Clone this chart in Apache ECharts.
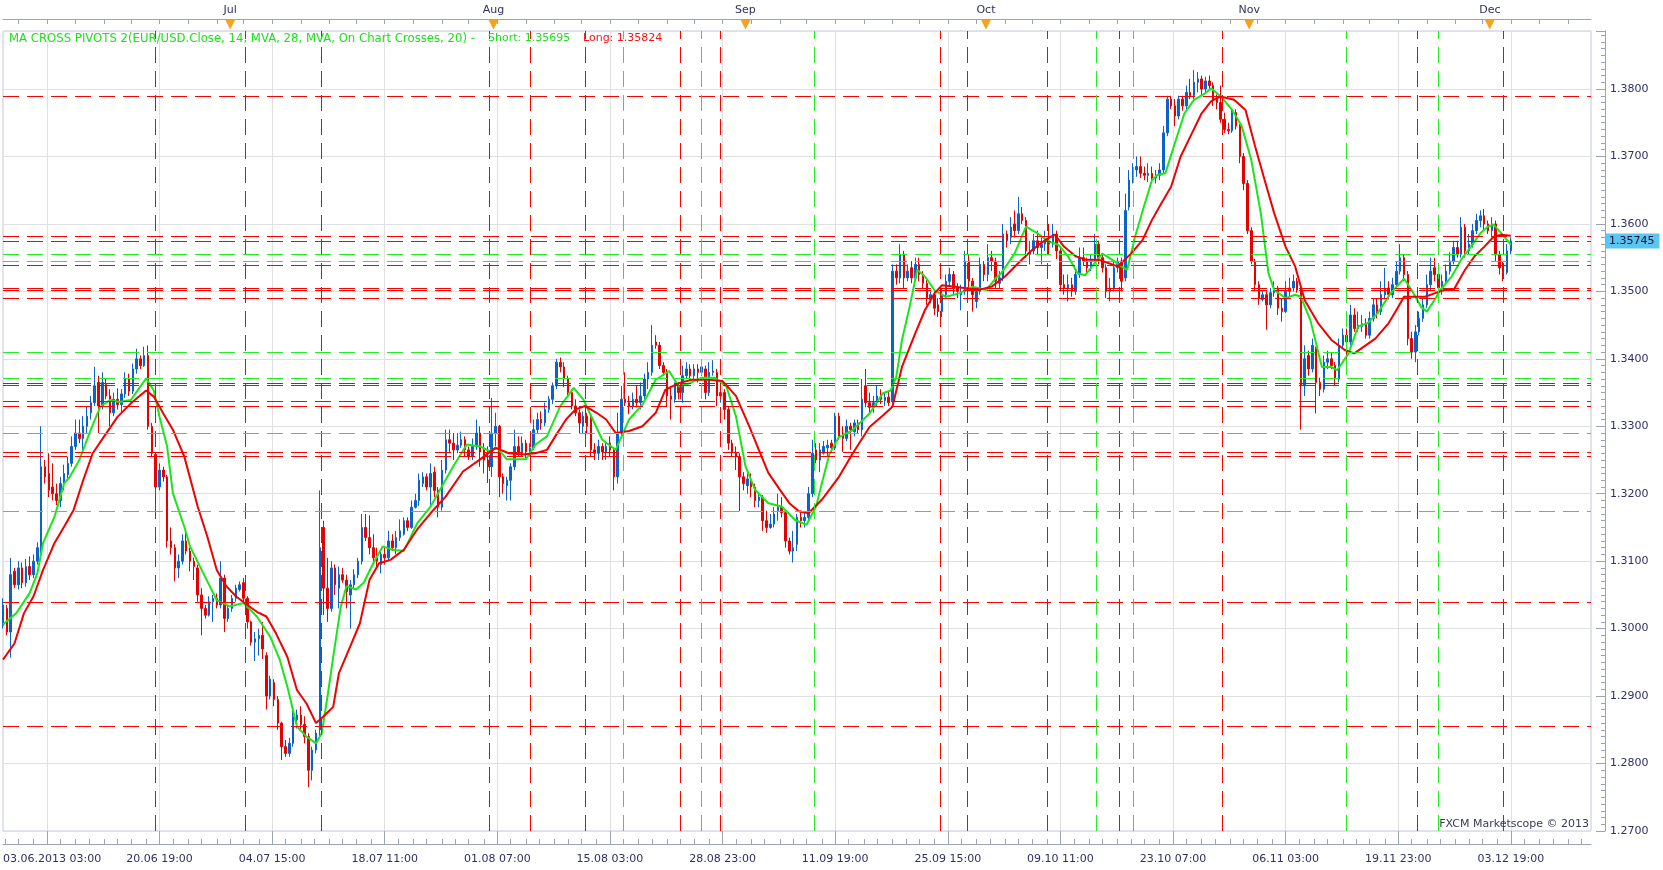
<!DOCTYPE html>
<html>
<head>
<meta charset="utf-8">
<script src="https://cdn.jsdelivr.net/npm/echarts@6.0.0/dist/echarts.min.js"></script>
<style>
html,body{margin:0;padding:0;background:#ffffff;}
#chart{width:1663px;height:870px;}
</style>
</head>
<body>
<div id="chart"></div>
<script>
// ---------------- DATA ----------------
const indicatorLabel = 'MA CROSS PIVOTS 2(EUR/USD.Close, 14, MVA, 28, MVA, On Chart Crosses, 20) -';
const shortValue = '1.35695';
const longValue = '1.35824';
const lastPrice = 1.35745;
const watermark = 'FXCM Marketscope \u00A9 2013';
const slotCount = 833;          // 4-hour slots shown on the time axis (incl. empty future slots)
const monthNames = ['Jan','Feb','Mar','Apr','May','Jun','Jul','Aug','Sep','Oct','Nov','Dec'];
const bottomLabels = ['03.06.2013 03:00','20.06 19:00','04.07 15:00','18.07 11:00','01.08 07:00','15.08 03:00','28.08 23:00','11.09 19:00','25.09 15:00','09.10 11:00','23.10 07:00','06.11 03:00','19.11 23:00','03.12 19:00'];
const gridTimes = ['06.06 23:00','20.06 19:00','04.07 15:00','18.07 11:00','01.08 07:00','15.08 03:00','28.08 23:00','11.09 19:00','25.09 15:00','09.10 11:00','23.10 07:00','06.11 03:00','19.11 23:00','03.12 19:00'];

// 8-hour OHLC bars [open, close, low, high], first bar 03.06.2013 03:00
const ohlcJun = [
[1.3005,1.3035,1.3000,1.3045],[1.3030,1.2995,1.2990,1.3035],[1.2995,1.3080,1.2957,1.3105],[1.3085,1.3065,1.3060,1.3090],
[1.3065,1.3090,1.3058,1.3100],[1.3090,1.3068,1.3060,1.3098],[1.3068,1.3092,1.3062,1.3103],[1.3092,1.3080,1.3072,1.3107],
[1.3080,1.3100,1.3075,1.3110],[1.3100,1.3120,1.3095,1.3128],[1.3120,1.3240,1.3110,1.3300],[1.3240,1.3225,1.3215,1.3250],
[1.3230,1.3205,1.3195,1.3260],[1.3210,1.3200,1.3190,1.3245],[1.3200,1.3190,1.3183,1.3215],[1.3190,1.3215,1.3180,1.3225],
[1.3215,1.3230,1.3205,1.3243],[1.3228,1.3245,1.3222,1.3255],[1.3245,1.3270,1.3240,1.3285],[1.3270,1.3290,1.3265,1.3310],
[1.3290,1.3282,1.3275,1.3310],[1.3282,1.3300,1.3265,1.3315],[1.3300,1.3315,1.3290,1.3330],[1.3320,1.3335,1.3310,1.3345],
[1.3335,1.3360,1.3330,1.3388],[1.3365,1.3330,1.3290,1.3375],[1.3330,1.3365,1.3325,1.3380],[1.3362,1.3345,1.3340,1.3370],
[1.3345,1.3320,1.3300,1.3355],[1.3320,1.3340,1.3315,1.3350],[1.3340,1.3332,1.3325,1.3356],[1.3332,1.3348,1.3320,1.3355],
[1.3348,1.3370,1.3342,1.3380],[1.3370,1.3352,1.3345,1.3378],[1.3352,1.3385,1.3348,1.3393],[1.3385,1.3400,1.3378,1.3415],
[1.3400,1.3390,1.3385,1.3405],[1.3390,1.3405,1.3388,1.3418],[1.3405,1.3300,1.3295,1.3420],[1.3300,1.3260,1.3255,1.3305],
[1.3258,1.3210,1.3170,1.3262],[1.3210,1.3235,1.3205,1.3245],[1.3235,1.3225,1.3218,1.3240],[1.3225,1.3130,1.3120,1.3228],
[1.3130,1.3120,1.3110,1.3150],[1.3120,1.3090,1.3070,1.3125],[1.3090,1.3100,1.3075,1.3110],[1.3100,1.3130,1.3095,1.3140],
[1.3130,1.3115,1.3110,1.3143],[1.3115,1.3100,1.3085,1.3120],[1.3100,1.3092,1.3072,1.3105],[1.3090,1.3050,1.3040,1.3095],
[1.3050,1.3030,1.2990,1.3060],[1.3030,1.3020,1.3015,1.3035],[1.3020,1.3040,1.3018,1.3048],[1.3040,1.3045,1.3010,1.3050],
[1.3045,1.3035,1.3030,1.3052],[1.3035,1.3075,1.3030,1.3100],[1.3075,1.3015,1.2995,1.3080],[1.3015,1.3030,1.3010,1.3035]
];
const ohlcJul = [
[1.3030,1.3045,1.3025,1.3050],[1.3045,1.3060,1.3040,1.3065],[1.3058,1.3065,1.3055,1.3070],[1.3068,1.3045,1.3040,1.3075],
[1.3045,1.3010,1.3000,1.3048],[1.3010,1.2980,1.2975,1.3012],[1.2980,1.2985,1.2952,1.2995],[1.2985,1.2990,1.2960,1.3000],
[1.2990,1.2970,1.2955,1.3010],[1.2960,1.2900,1.2880,1.2965],[1.2900,1.2925,1.2895,1.2930],[1.2920,1.2895,1.2885,1.2925],
[1.2895,1.2860,1.2850,1.2900],[1.2860,1.2825,1.2805,1.2862],[1.2825,1.2815,1.2810,1.2835],[1.2815,1.2830,1.2810,1.2838],
[1.2830,1.2870,1.2825,1.2880],[1.2865,1.2872,1.2852,1.2880],[1.2872,1.2858,1.2850,1.2885],[1.2858,1.2840,1.2830,1.2870],
[1.2840,1.2790,1.2765,1.2845],[1.2790,1.2820,1.2775,1.2825],[1.2820,1.2845,1.2815,1.2850],[1.2850,1.3120,1.2840,1.3205],
[1.3150,1.3060,1.3020,1.3160],[1.3060,1.3030,1.3010,1.3105],[1.3030,1.3090,1.3025,1.3100],[1.3090,1.3065,1.3050,1.3095],
[1.3060,1.3080,1.3030,1.3092],[1.3080,1.3072,1.3068,1.3090],[1.3072,1.3055,1.3030,1.3080],[1.3050,1.3065,1.3000,1.3072],
[1.3065,1.3080,1.3060,1.3088],[1.3080,1.3100,1.3075,1.3105],[1.3100,1.3150,1.3095,1.3170],[1.3150,1.3135,1.3130,1.3170],
[1.3135,1.3120,1.3110,1.3168],[1.3120,1.3105,1.3095,1.3140],[1.3105,1.3100,1.3088,1.3120],[1.3095,1.3110,1.3082,1.3115],
[1.3110,1.3105,1.3095,1.3120],[1.3105,1.3130,1.3100,1.3145],[1.3130,1.3120,1.3115,1.3140],[1.3120,1.3135,1.3110,1.3145],
[1.3135,1.3145,1.3130,1.3162],[1.3140,1.3160,1.3138,1.3165],[1.3160,1.3150,1.3145,1.3165],[1.3150,1.3180,1.3148,1.3190],
[1.3180,1.3190,1.3178,1.3200],[1.3190,1.3220,1.3182,1.3230],[1.3215,1.3225,1.3210,1.3232],[1.3225,1.3210,1.3205,1.3230],
[1.3210,1.3230,1.3180,1.3245],[1.3232,1.3205,1.3195,1.3240],[1.3205,1.3180,1.3165,1.3210],[1.3180,1.3235,1.3175,1.3250],
[1.3235,1.3280,1.3230,1.3295],[1.3280,1.3275,1.3262,1.3295],[1.3275,1.3265,1.3250,1.3290],[1.3265,1.3272,1.3260,1.3290],
[1.3272,1.3280,1.3268,1.3292],[1.3280,1.3265,1.3255,1.3285],[1.3265,1.3255,1.3250,1.3270],[1.3255,1.3270,1.3250,1.3282],
[1.3270,1.3290,1.3265,1.3310],[1.3290,1.3262,1.3240,1.3300],[1.3265,1.3250,1.3230,1.3275],[1.3250,1.3240,1.3216,1.3270],
[1.3240,1.3290,1.3225,1.3342]
];
const ohlcAug = [
[1.3290,1.3300,1.3270,1.3320],[1.3300,1.3225,1.3195,1.3302],[1.3225,1.3215,1.3200,1.3230],[1.3212,1.3220,1.3190,1.3225],
[1.3220,1.3240,1.3190,1.3245],[1.3240,1.3270,1.3235,1.3295],[1.3270,1.3260,1.3255,1.3285],[1.3260,1.3275,1.3255,1.3285],
[1.3275,1.3262,1.3252,1.3280],[1.3262,1.3268,1.3255,1.3275],[1.3268,1.3295,1.3265,1.3310],[1.3295,1.3310,1.3290,1.3320],
[1.3310,1.3305,1.3295,1.3322],[1.3305,1.3325,1.3300,1.3335],[1.3325,1.3340,1.3320,1.3345],[1.3340,1.3360,1.3333,1.3365],
[1.3360,1.3395,1.3355,1.3400],[1.3395,1.3388,1.3380,1.3402],[1.3388,1.3370,1.3358,1.3395],[1.3370,1.3350,1.3345,1.3375],
[1.3350,1.3330,1.3325,1.3355],[1.3330,1.3320,1.3315,1.3340],[1.3320,1.3305,1.3290,1.3325],[1.3300,1.3315,1.3290,1.3322],
[1.3315,1.3300,1.3290,1.3320],[1.3315,1.3265,1.3255,1.3318],[1.3265,1.3260,1.3250,1.3275],[1.3260,1.3270,1.3250,1.3280],
[1.3270,1.3262,1.3250,1.3275],[1.3262,1.3270,1.3250,1.3278],[1.3275,1.3265,1.3255,1.3285],[1.3265,1.3225,1.3205,1.3268],
[1.3225,1.3290,1.3215,1.3320],[1.3290,1.3340,1.3285,1.3360],[1.3340,1.3335,1.3330,1.3380],[1.3335,1.3330,1.3318,1.3345],
[1.3330,1.3340,1.3325,1.3350],[1.3340,1.3335,1.3328,1.3360],[1.3335,1.3345,1.3325,1.3365],[1.3345,1.3370,1.3340,1.3378],
[1.3370,1.3380,1.3355,1.3395],[1.3380,1.3420,1.3375,1.3450],[1.3425,1.3420,1.3415,1.3435],[1.3420,1.3390,1.3385,1.3425],
[1.3390,1.3380,1.3375,1.3395],[1.3380,1.3345,1.3330,1.3385],[1.3345,1.3340,1.3310,1.3360],[1.3340,1.3360,1.3335,1.3365],
[1.3360,1.3350,1.3340,1.3365],[1.3350,1.3375,1.3335,1.3390],[1.3375,1.3385,1.3370,1.3395],[1.3385,1.3375,1.3368,1.3392],
[1.3375,1.3385,1.3368,1.3392],[1.3385,1.3380,1.3365,1.3392],[1.3380,1.3388,1.3375,1.3398],[1.3385,1.3350,1.3340,1.3390],
[1.3350,1.3380,1.3345,1.3395],[1.3380,1.3382,1.3375,1.3398],[1.3380,1.3345,1.3330,1.3385],[1.3345,1.3350,1.3335,1.3360],
[1.3350,1.3325,1.3310,1.3355],[1.3325,1.3275,1.3265,1.3330],[1.3275,1.3262,1.3255,1.3280],[1.3260,1.3255,1.3235,1.3270],
[1.3255,1.3225,1.3174,1.3260],[1.3225,1.3215,1.3205,1.3232]
];
const ohlcSep = [
[1.3212,1.3222,1.3200,1.3230],[1.3220,1.3210,1.3195,1.3230],[1.3210,1.3190,1.3180,1.3215],[1.3190,1.3195,1.3180,1.3200],
[1.3195,1.3160,1.3145,1.3198],[1.3160,1.3150,1.3142,1.3175],[1.3150,1.3155,1.3148,1.3170],[1.3155,1.3170,1.3150,1.3180],
[1.3175,1.3180,1.3160,1.3200],[1.3180,1.3172,1.3165,1.3195],[1.3172,1.3130,1.3120,1.3175],[1.3130,1.3115,1.3110,1.3135],
[1.3115,1.3120,1.3098,1.3145],[1.3125,1.3165,1.3115,1.3170],[1.3165,1.3160,1.3150,1.3175],[1.3160,1.3165,1.3150,1.3172],
[1.3165,1.3200,1.3160,1.3210],[1.3200,1.3260,1.3195,1.3280],[1.3265,1.3250,1.3245,1.3275],[1.3250,1.3265,1.3232,1.3275],
[1.3260,1.3270,1.3258,1.3278],[1.3268,1.3272,1.3255,1.3280],[1.3275,1.3268,1.3262,1.3280],[1.3268,1.3315,1.3265,1.3320],
[1.3315,1.3285,1.3280,1.3320],[1.3290,1.3282,1.3262,1.3300],[1.3282,1.3300,1.3278,1.3310],[1.3300,1.3295,1.3265,1.3305],
[1.3292,1.3305,1.3285,1.3310],[1.3305,1.3295,1.3290,1.3310],[1.3295,1.3340,1.3285,1.3370],[1.3360,1.3335,1.3328,1.3385],
[1.3335,1.3328,1.3320,1.3350],[1.3328,1.3335,1.3320,1.3345],[1.3335,1.3345,1.3330,1.3360],[1.3345,1.3340,1.3333,1.3355],
[1.3338,1.3343,1.3330,1.3350],[1.3343,1.3335,1.3330,1.3352],[1.3338,1.3530,1.3335,1.3540],[1.3530,1.3520,1.3510,1.3540],
[1.3520,1.3555,1.3512,1.3570],[1.3555,1.3520,1.3505,1.3560],[1.3520,1.3530,1.3515,1.3540],[1.3535,1.3520,1.3512,1.3545],
[1.3520,1.3540,1.3515,1.3550],[1.3540,1.3525,1.3515,1.3550],[1.3525,1.3512,1.3505,1.3530],[1.3512,1.3490,1.3480,1.3520],
[1.3488,1.3495,1.3482,1.3500],[1.3495,1.3475,1.3465,1.3500],[1.3480,1.3470,1.3462,1.3490],[1.3470,1.3495,1.3462,1.3505],
[1.3495,1.3515,1.3490,1.3525],[1.3515,1.3525,1.3508,1.3535],[1.3525,1.3505,1.3495,1.3530],[1.3505,1.3500,1.3490,1.3512],
[1.3495,1.3500,1.3472,1.3510],[1.3500,1.3545,1.3495,1.3560],[1.3545,1.3515,1.3505,1.3555],[1.3515,1.3495,1.3470,1.3520],
[1.3485,1.3500,1.3475,1.3505],[1.3500,1.3540,1.3495,1.3550],[1.3540,1.3525,1.3515,1.3545]
];
const ohlcOct = [
[1.3525,1.3550,1.3515,1.3570],[1.3550,1.3545,1.3530,1.3560],[1.3545,1.3515,1.3505,1.3550],[1.3512,1.3520,1.3505,1.3530],
[1.3520,1.3585,1.3515,1.3600],[1.3585,1.3575,1.3565,1.3590],[1.3580,1.3595,1.3570,1.3610],[1.3600,1.3590,1.3580,1.3620],
[1.3590,1.3615,1.3585,1.3640],[1.3615,1.3605,1.3600,1.3625],[1.3605,1.3560,1.3550,1.3610],[1.3555,1.3560,1.3540,1.3575],
[1.3560,1.3575,1.3555,1.3585],[1.3575,1.3565,1.3555,1.3590],[1.3565,1.3570,1.3540,1.3580],[1.3570,1.3575,1.3560,1.3590],
[1.3575,1.3570,1.3555,1.3600],[1.3570,1.3585,1.3565,1.3600],[1.3585,1.3560,1.3548,1.3590],[1.3560,1.3510,1.3500,1.3565],
[1.3510,1.3505,1.3495,1.3525],[1.3505,1.3510,1.3485,1.3525],[1.3510,1.3500,1.3492,1.3520],[1.3500,1.3525,1.3495,1.3530],
[1.3525,1.3550,1.3520,1.3565],[1.3550,1.3545,1.3538,1.3565],[1.3545,1.3535,1.3525,1.3550],[1.3535,1.3545,1.3530,1.3555],
[1.3545,1.3570,1.3540,1.3585],[1.3570,1.3550,1.3540,1.3575],[1.3550,1.3535,1.3528,1.3555],[1.3535,1.3500,1.3490,1.3540],
[1.3500,1.3505,1.3485,1.3520],[1.3505,1.3535,1.3500,1.3545],[1.3535,1.3545,1.3528,1.3550],[1.3545,1.3515,1.3500,1.3550],
[1.3520,1.3620,1.3515,1.3645],[1.3625,1.3665,1.3620,1.3680],[1.3665,1.3680,1.3660,1.3690],[1.3680,1.3685,1.3670,1.3700],
[1.3685,1.3675,1.3668,1.3700],[1.3675,1.3672,1.3665,1.3685],[1.3672,1.3675,1.3662,1.3690],[1.3675,1.3668,1.3662,1.3685],
[1.3668,1.3672,1.3660,1.3680],[1.3672,1.3680,1.3665,1.3690],[1.3680,1.3735,1.3675,1.3745],[1.3735,1.3785,1.3730,1.3790],
[1.3785,1.3775,1.3770,1.3790],[1.3775,1.3760,1.3745,1.3785],[1.3760,1.3785,1.3755,1.3790],[1.3785,1.3775,1.3768,1.3790],
[1.3775,1.3795,1.3770,1.3805],[1.3795,1.3790,1.3785,1.3815],[1.3790,1.3810,1.3785,1.3828],[1.3810,1.3815,1.3795,1.3825],
[1.3815,1.3800,1.3790,1.3820],[1.3800,1.3812,1.3795,1.3818],[1.3812,1.3805,1.3800,1.3820],[1.3805,1.3785,1.3775,1.3810],
[1.3785,1.3780,1.3770,1.3792],[1.3780,1.3755,1.3750,1.3805],[1.3755,1.3740,1.3735,1.3765],[1.3740,1.3738,1.3733,1.3750],
[1.3738,1.3765,1.3735,1.3772],[1.3765,1.3745,1.3740,1.3770],[1.3745,1.3700,1.3690,1.3748],[1.3700,1.3660,1.3650,1.3705],
[1.3660,1.3590,1.3585,1.3665]
];
const ohlcNov = [
[1.3590,1.3545,1.3540,1.3595],[1.3545,1.3510,1.3500,1.3548],[1.3510,1.3490,1.3480,1.3515],[1.3488,1.3495,1.3485,1.3502],
[1.3495,1.3480,1.3443,1.3500],[1.3480,1.3498,1.3475,1.3505],[1.3498,1.3505,1.3492,1.3515],[1.3505,1.3475,1.3465,1.3508],
[1.3475,1.3470,1.3455,1.3490],[1.3470,1.3500,1.3468,1.3515],[1.3500,1.3505,1.3492,1.3520],[1.3505,1.3515,1.3500,1.3525],
[1.3515,1.3502,1.3498,1.3520],[1.3500,1.3360,1.3295,1.3505],[1.3360,1.3400,1.3345,1.3420],[1.3405,1.3385,1.3375,1.3412],
[1.3385,1.3420,1.3380,1.3430],[1.3415,1.3365,1.3319,1.3418],[1.3365,1.3355,1.3345,1.3372],[1.3355,1.3395,1.3350,1.3405],
[1.3395,1.3400,1.3385,1.3412],[1.3400,1.3390,1.3385,1.3410],[1.3390,1.3370,1.3360,1.3395],[1.3370,1.3420,1.3365,1.3430],
[1.3420,1.3435,1.3415,1.3445],[1.3435,1.3425,1.3400,1.3445],[1.3425,1.3465,1.3420,1.3480],[1.3465,1.3445,1.3440,1.3475],
[1.3445,1.3450,1.3440,1.3470],[1.3448,1.3452,1.3440,1.3465],[1.3452,1.3435,1.3430,1.3460],[1.3435,1.3460,1.3430,1.3470],
[1.3460,1.3480,1.3455,1.3490],[1.3480,1.3470,1.3460,1.3490],[1.3470,1.3495,1.3465,1.3515],[1.3495,1.3505,1.3488,1.3535],
[1.3505,1.3495,1.3488,1.3515],[1.3495,1.3510,1.3490,1.3520],[1.3510,1.3530,1.3505,1.3545],[1.3530,1.3550,1.3525,1.3570],
[1.3550,1.3525,1.3515,1.3555],[1.3525,1.3430,1.3420,1.3530],[1.3430,1.3410,1.3400,1.3440],[1.3410,1.3440,1.3395,1.3450],
[1.3440,1.3460,1.3435,1.3470],[1.3460,1.3480,1.3455,1.3490],[1.3480,1.3510,1.3475,1.3525],[1.3510,1.3530,1.3500,1.3550],
[1.3535,1.3525,1.3515,1.3550],[1.3525,1.3505,1.3495,1.3535],[1.3505,1.3515,1.3495,1.3525],[1.3515,1.3530,1.3510,1.3540],
[1.3530,1.3545,1.3525,1.3558],[1.3545,1.3565,1.3540,1.3575],[1.3565,1.3555,1.3550,1.3575],[1.3555,1.3595,1.3550,1.3610],
[1.3595,1.3560,1.3550,1.3600],[1.3560,1.3570,1.3555,1.3585],[1.3570,1.3590,1.3565,1.3600],[1.3590,1.3605,1.3585,1.3615],
[1.3605,1.3612,1.3595,1.3620],[1.3612,1.3600,1.3590,1.3622],[1.3600,1.3590,1.3585,1.3605]
];
const ohlcDec = [
[1.3590,1.3600,1.3580,1.3610],[1.3600,1.3555,1.3545,1.3605],[1.3555,1.3535,1.3525,1.3560],[1.3535,1.3528,1.3515,1.3545],
[1.3528,1.3560,1.3525,1.3570],[1.3560,1.35745,1.3555,1.3580]
];

// moving averages: [slot, value]
const maShort = [[0,1.3006],[7,1.3023],[14,1.3053],[18,1.3082],[21,1.3127],[27,1.3166],[32,1.3215],[35,1.3225],[40,1.3250],[46,1.3295],[51,1.3329],[56,1.3339],[61,1.3336],[67,1.3339],[70,1.3351],[75,1.3371],[79,1.3353],[82,1.3314],[86,1.3270],[89,1.3201],[95,1.3151],[98,1.3122],[105,1.3082],[112,1.3042],[119,1.3033],[126,1.3038],[133,1.3018],[140,1.2988],[145,1.2954],[149,1.2914],[154,1.2855],[159,1.2840],[164,1.2830],[167,1.2845],[170,1.2899],[173,1.2958],[177,1.3033],[180,1.3063],[185,1.3058],[189,1.3068],[194,1.3097],[199,1.3122],[204,1.3117],[210,1.3115],[217,1.3156],[224,1.3181],[229,1.3206],[236,1.3241],[243,1.3273],[250,1.3270],[255,1.3263],[259,1.3268],[264,1.3251],[269,1.3251],[274,1.3251],[279,1.3273],[285,1.3285],[292,1.3330],[299,1.3357],[304,1.3340],[309,1.3310],[314,1.3280],[321,1.3265],[328,1.3310],[335,1.3332],[342,1.3369],[349,1.3382],[354,1.3359],[360,1.3364],[366,1.3372],[373,1.3372],[379,1.3359],[384,1.3315],[389,1.3241],[394,1.3206],[401,1.3186],[408,1.3181],[415,1.3161],[421,1.3154],[426,1.3181],[429,1.3215],[433,1.3259],[438,1.3284],[445,1.3294],[454,1.3319],[461,1.3349],[465,1.3353],[468,1.3373],[471,1.3428],[475,1.3477],[479,1.3532],[483,1.3522],[488,1.3502],[494,1.3492],[501,1.3497],[508,1.3507],[515,1.3502],[520,1.3519],[523,1.3527],[530,1.3556],[536,1.3596],[542,1.3586],[548,1.3574],[553,1.3569],[558,1.3552],[563,1.3527],[567,1.3524],[572,1.3542],[576,1.3556],[581,1.3547],[586,1.3537],[589,1.3532],[593,1.3580],[598,1.3628],[602,1.3665],[605,1.3673],[609,1.3675],[614,1.3720],[619,1.3764],[624,1.3784],[630,1.3794],[633,1.3801],[638,1.3789],[644,1.3769],[649,1.3745],[654,1.3695],[659,1.3616],[663,1.3527],[666,1.3502],[672,1.3490],[677,1.3495],[680,1.3492],[685,1.3457],[691,1.3388],[696,1.3388],[699,1.3383],[705,1.3408],[710,1.3448],[715,1.3453],[720,1.3467],[727,1.3497],[734,1.3519],[738,1.3502],[743,1.3477],[746,1.3470],[750,1.3487],[753,1.3502],[759,1.3522],[764,1.3547],[769,1.3566],[774,1.3586],[778,1.3596],[781,1.3599],[785,1.3586],[790,1.35695]];
const maLong = [[0,1.2954],[6,1.2978],[11,1.3023],[16,1.3048],[21,1.3087],[27,1.3127],[32,1.3151],[37,1.3176],[42,1.3220],[47,1.3260],[53,1.3285],[60,1.3314],[67,1.3334],[72,1.3346],[75,1.3353],[79,1.3344],[84,1.3319],[89,1.3295],[95,1.3255],[102,1.3181],[107,1.3137],[112,1.3087],[117,1.3063],[122,1.3048],[128,1.3035],[133,1.3025],[138,1.3018],[143,1.2993],[149,1.2958],[154,1.2909],[159,1.2889],[164,1.2860],[168,1.2870],[173,1.2884],[176,1.2934],[182,1.2974],[187,1.3008],[192,1.3072],[197,1.3097],[203,1.3102],[210,1.3117],[217,1.3147],[224,1.3171],[232,1.3196],[241,1.3233],[250,1.3251],[258,1.3268],[265,1.3260],[272,1.3258],[279,1.3260],[285,1.3265],[290,1.3288],[295,1.3310],[300,1.3325],[305,1.3330],[311,1.3320],[316,1.3310],[321,1.3290],[328,1.3293],[335,1.3300],[342,1.3320],[347,1.3354],[354,1.3364],[361,1.3369],[370,1.3369],[377,1.3367],[384,1.3345],[391,1.3300],[396,1.3265],[401,1.3231],[407,1.3206],[412,1.3186],[417,1.3174],[422,1.3171],[429,1.3191],[438,1.3225],[445,1.3259],[454,1.3299],[461,1.3316],[466,1.3329],[471,1.3388],[478,1.3438],[483,1.3472],[488,1.3497],[492,1.3509],[499,1.3507],[506,1.3504],[511,1.3502],[518,1.3507],[525,1.3522],[532,1.3542],[539,1.3561],[546,1.3576],[551,1.3584],[556,1.3566],[562,1.3552],[567,1.3547],[574,1.3547],[579,1.3542],[584,1.3537],[591,1.3556],[597,1.3576],[602,1.3606],[607,1.3631],[612,1.3655],[617,1.3700],[623,1.3735],[628,1.3764],[633,1.3782],[638,1.3789],[645,1.3784],[651,1.3769],[656,1.3715],[661,1.3665],[666,1.3616],[672,1.3566],[677,1.3537],[682,1.3487],[689,1.3453],[696,1.3428],[703,1.3413],[708,1.3408],[713,1.3418],[719,1.3430],[726,1.3453],[731,1.3477],[734,1.3492],[739,1.3492],[745,1.3492],[750,1.3497],[755,1.3502],[760,1.3502],[766,1.3532],[771,1.3552],[776,1.3566],[781,1.3581],[785,1.3584],[790,1.35824]];

// pivot price levels (horizontal) and cross bars (vertical, slot index)
const pivotsRed = [1.3789,1.3582,1.3575,1.3538,1.3504,1.3501,1.3490,1.3364,1.3361,1.3337,1.3330,1.3261,1.3256,1.3039,1.2855];
const pivotsGreen = [1.3555,1.3544,1.3410,1.3371,1.3290,1.3174];
const crossRed = [80,127,167,255,276,305,355,376,491,505,547,585,639,741,786];
const crossGreen = [325,366,425,573,592,704,752];

// ---------------- BUILD ----------------
function pad(n){ return (n < 10 ? '0' : '') + n; }
const slots = [], slotDates = [];
(function(){
  let t = Date.UTC(2013, 5, 3, 3);
  while (slots.length < slotCount) {
    const d = new Date(t), wd = d.getUTCDay(), h = d.getUTCHours();
    const open = (wd >= 1 && wd <= 4) || (wd === 5 && h <= 19) || (wd === 0 && h === 23);
    if (open) {
      const base = pad(d.getUTCDate()) + '.' + pad(d.getUTCMonth() + 1);
      const tm = pad(h) + ':' + pad(d.getUTCMinutes());
      slots.push(slots.length === 0 ? base + '.' + d.getUTCFullYear() + ' ' + tm : base + ' ' + tm);
      slotDates.push(d);
    }
    t += 4 * 3600e3;
  }
})();
const labelSet = new Set(bottomLabels);
const gridSet = new Set(gridTimes);
const gridIdx = slots.map((s, i) => gridSet.has(s) ? i : -1).filter(i => i >= 0);
function phase(i){ const g = gridIdx[0]; return (((i - g) % 59) + 59) % 59; }
const minorPhases = [0, 7, 15, 22, 30, 37, 44, 52];
const topPhases = [0, 15, 30, 44];
function tradeMonth(i){ return new Date(slotDates[i].getTime() + 3600e3).getUTCMonth(); }
function isMonthStart(i){ return i > 0 && tradeMonth(i) !== tradeMonth(i - 1); }

const ohlc = [].concat(ohlcJun, ohlcJul, ohlcAug, ohlcSep, ohlcOct, ohlcNov, ohlcDec);
const candleData = slots.map(() => '-');
ohlc.forEach((b, k) => { candleData[k * 2] = b; });

const FONT = 'DejaVu Sans';
const TXT = '#2f2f66';
const AXC = '#9aa3b3';
const RED = '#ff0000', GREEN = '#22ee22';
const dash = [16, 8];
const txtBase = {fontFamily: FONT, fontSize: 11, fontWeight: 'normal'};

const chart = echarts.init(document.getElementById('chart'), null, {renderer: 'canvas'});
chart.setOption({
  animation: false,
  backgroundColor: '#ffffff',
  title: [
    {text: indicatorLabel, left: 9, top: 33, padding: 0, textStyle: Object.assign({}, txtBase, {color: '#1ee01e', fontSize: 11.7})},
    {text: 'Short: ' + shortValue, left: 488, top: 33, padding: 0, textStyle: Object.assign({color: '#1ee01e'}, txtBase)},
    {text: 'Long: ' + longValue, left: 583, top: 33, padding: 0, textStyle: Object.assign({color: '#ff1010'}, txtBase)},
    {text: watermark, right: 74, bottom: 40, padding: 0, textStyle: Object.assign({color: '#3a3a5a'}, txtBase)}
  ],
  grid: {left: 0, right: 72, top: 31, bottom: 39, show: true, borderColor: '#c2cad6', borderWidth: 1, backgroundColor: '#ffffff'},
  xAxis: [
    {
      type: 'category', data: slots, boundaryGap: false, position: 'bottom',
      axisLine: {show: false},
      axisTick: {show: true, length: 13, interval: (i, v) => gridSet.has(v), lineStyle: {color: AXC}},
      axisLabel: {interval: (i, v) => labelSet.has(v), margin: 23, color: TXT, fontFamily: FONT, fontSize: 11, alignMinLabel: 'left'},
      splitLine: {show: true, interval: (i, v) => gridSet.has(v), lineStyle: {color: '#e0e0e0', width: 1}}
    },
    {
      type: 'category', data: slots, boundaryGap: false, position: 'bottom', offset: 13,
      axisLine: {show: true, lineStyle: {color: AXC}},
      axisTick: {show: true, inside: true, length: 5, interval: (i) => minorPhases.indexOf(phase(i)) >= 0, lineStyle: {color: AXC}},
      axisLabel: {show: false}, splitLine: {show: false}
    },
    {
      type: 'category', data: slots, boundaryGap: false, position: 'top', offset: 12,
      axisLine: {show: true, lineStyle: {color: AXC}},
      axisTick: {show: true, inside: true, length: 5, interval: (i) => topPhases.indexOf(phase(i)) >= 0, lineStyle: {color: AXC}},
      axisLabel: {interval: (i) => isMonthStart(i), formatter: (v, i) => monthNames[tradeMonth(i)], margin: 3, color: TXT, fontFamily: FONT, fontSize: 11},
      splitLine: {show: false}
    },
    {
      type: 'category', data: slots, boundaryGap: false, position: 'top', offset: 12,
      axisLine: {show: false}, axisTick: {show: false},
      axisLabel: {inside: true, interval: (i) => isMonthStart(i), formatter: () => '\u25BC', margin: -1, color: '#f5a31c', fontFamily: FONT, fontSize: 13},
      splitLine: {show: false}
    }
  ],
  yAxis: {
    type: 'value', position: 'right', offset: 14, min: 1.27, max: 1.3886, interval: 0.01,
    axisLine: {show: true, lineStyle: {color: AXC}},
    axisTick: {show: true, inside: true, length: 9, lineStyle: {color: AXC}},
    minorTick: {show: true, splitNumber: 10, length: 4, lineStyle: {color: AXC}},
    axisLabel: {formatter: v => v.toFixed(4), margin: 5, showMaxLabel: false, color: TXT, fontFamily: FONT, fontSize: 11},
    splitLine: {show: true, lineStyle: {color: '#e0e0e0', width: 1}}
  },
  series: [
    {
      type: 'line', data: [], z: 1, silent: true,
      markLine: {
        silent: true, symbol: ['none', 'none'], label: {show: false}, animation: false, precision: 6,
        lineStyle: {color: RED, type: dash, width: 1},
        data: pivotsRed.map(v => ({yAxis: v})).concat(crossRed.map(i => ({xAxis: i})))
      }
    },
    {
      type: 'line', data: [], z: 1, silent: true,
      markLine: {
        silent: true, symbol: ['none', 'none'], label: {show: false}, animation: false, precision: 6,
        lineStyle: {color: GREEN, type: dash, width: 1},
        data: pivotsGreen.map(v => ({yAxis: v})).concat(crossGreen.map(i => ({xAxis: i})))
      }
    },
    {
      type: 'candlestick', name: 'EUR/USD', data: candleData, z: 2, large: false, barWidth: 2,
      itemStyle: {color: '#0a62cc', color0: '#e60000', borderColor: '#0a62cc', borderColor0: '#e60000', borderWidth: 1}
    },
    {
      type: 'line', name: 'MVA 14', data: maShort, z: 3, showSymbol: false, silent: true,
      lineStyle: {color: '#19e619', width: 2}
    },
    {
      type: 'line', name: 'MVA 28', data: maLong, z: 4, showSymbol: false, silent: true,
      lineStyle: {color: '#f00000', width: 2},
      markLine: {
        silent: true, symbol: ['none', 'none'], animation: false, precision: 6,
        lineStyle: {color: 'rgba(255,255,255,0)', width: 1},
        label: {show: true, position: 'end', distance: 15, formatter: lastPrice.toFixed(5),
          backgroundColor: '#5cc6f3', color: '#111133', padding: [2, 5, 2, 3], fontFamily: FONT, fontSize: 11},
        data: [{yAxis: lastPrice}]
      }
    }
  ]
});
</script>
</body>
</html>
